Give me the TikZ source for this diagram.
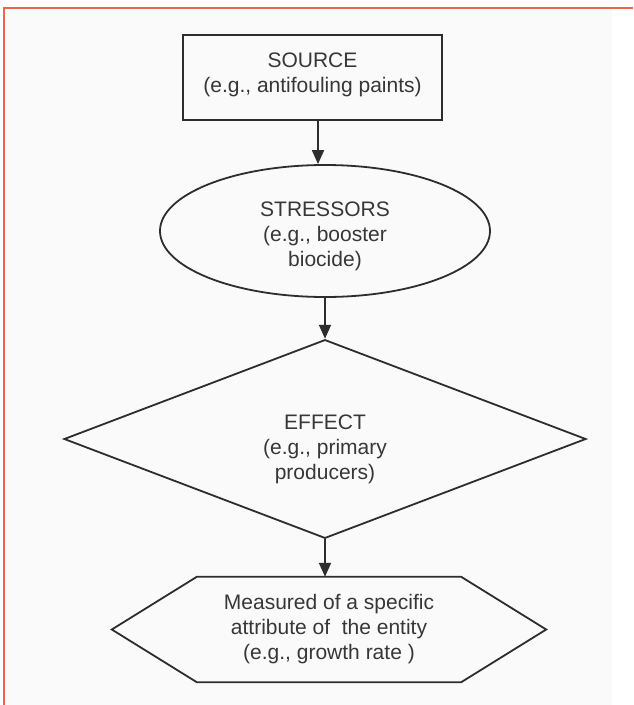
\documentclass[tikz,border=0pt]{standalone}
\usepackage{fontspec}
\setmainfont{Liberation Sans}
\usetikzlibrary{shapes.geometric,arrows.meta}
\definecolor{inkc}{RGB}{45,45,45}
\definecolor{textc}{RGB}{55,55,55}
\definecolor{framec}{RGB}{238,98,82}
\definecolor{paperc}{RGB}{250,250,250}
\newcommand{\shiftedlines}[2]{\raisebox{#1}[\height][\depth]{\begin{tabular}{@{}c@{}}#2\end{tabular}}}
\begin{document}
\begin{tikzpicture}[x=1pt,y=-1pt,
  shapeline/.style={draw=inkc,line width=1.8pt},
  lbl/.style={text=textc,align=center,font=\fontsize{21}{25}\selectfont,inner sep=0pt},
  srcbox/.style={shapeline,lbl,rectangle,minimum width=259pt,minimum height=85pt},
  ellbox/.style={shapeline,lbl,ellipse,minimum width=330pt,minimum height=132pt},
  diabox/.style={shapeline,lbl,diamond,minimum width=522pt,minimum height=198pt},
  hexbox/.style={lbl,rectangle,minimum width=434pt,minimum height=105pt},
  arr/.style={draw=inkc,line width=1.8pt,-{Triangle[length=14pt,width=12pt]}}
]
\useasboundingbox (0,0) rectangle (633,705);
\fill[white] (0,0) rectangle (633,705);
\fill[paperc] (5,9) rectangle (612,705);
\draw[framec,line width=1.6pt] (4,705) -- (4,8) -- (633,8);

\node[srcbox] (src) at (312.5,77.5) {\shiftedlines{3pt}{SOURCE\\(e.g., antifouling paints)}};
\node[ellbox] (ell) at (325,231) {\shiftedlines{-5pt}{STRESSORS\\(e.g., booster\\biocide)}};
\node[diabox] (dia) at (325,439) {\shiftedlines{-10pt}{EFFECT\\(e.g., primary\\producers)}};
\node[hexbox] (hex) at (329,629.5) {Measured of a specific\\attribute of\ \ the entity\\(e.g., growth rate )};
\draw[shapeline,line join=miter] (hex.west) -- ([xshift=85pt]hex.north west) -- ([xshift=-85pt]hex.north east)
  -- (hex.east) -- ([xshift=-85pt]hex.south east) -- ([xshift=85pt]hex.south west) -- cycle;

\coordinate (a1) at ([xshift=5.5pt]src.south);
\draw[arr] (a1) -- (a1 |- ell.north);
\draw[arr] (ell.south) -- (dia.north);
\draw[arr] (dia.south) -- (dia.south |- hex.north);
\end{tikzpicture}
\end{document}
